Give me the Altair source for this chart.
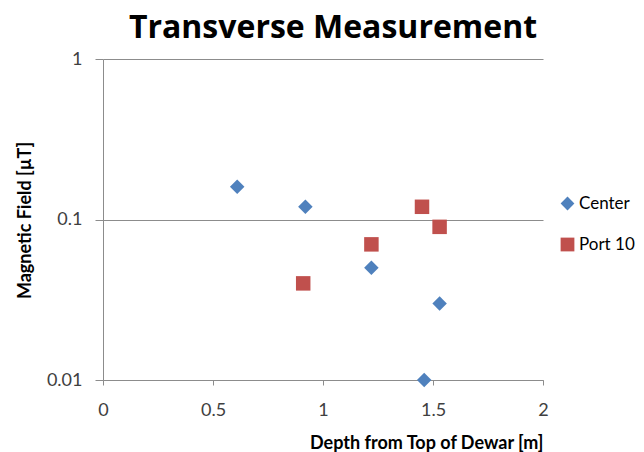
import altair as alt
import pandas as pd

series_names = ["Center", "Port 10"]
center_x = [0.61, 0.92, 1.22, 1.46, 1.53]
center_y = [0.16, 0.12, 0.05, 0.01, 0.03]
port_x = [0.91, 1.22, 1.45, 1.53]
port_y = [0.04, 0.07, 0.12, 0.09]
x_ticks = [0, 0.5, 1, 1.5, 2]
y_ticks = [0.01, 0.1, 1]

rows = [{"x": a, "y": b, "s": "Center"} for a, b in zip(center_x, center_y)]
rows += [{"x": a, "y": b, "s": "Port 10"} for a, b in zip(port_x, port_y)]
df = pd.DataFrame(rows)

FONT = "Lato"
GRID = "#8c8c8c"

chart = alt.Chart(df).mark_point(filled=True, opacity=1, size=210).encode(
    x=alt.X("x:Q", scale=alt.Scale(domain=[0, 2], nice=False),
            axis=alt.Axis(values=x_ticks, format="~g", grid=False, title="Depth from Top of Dewar [m]",
                          tickSize=5, labelPadding=16, labelFlush=False, titleX=440, titleAlign="right",
                          titleAnchor="end", titleY=68, titleBaseline="alphabetic")),
    y=alt.Y("y:Q", scale=alt.Scale(type="log", domain=[0.01, 1], nice=False),
            axis=alt.Axis(values=y_ticks, format="~g", grid=True, title="Magnetic Field [µT]",
                          tickSize=8, labelPadding=13, labelFlush=False, titleX=-78, titleY=161,
                          titleAngle=270, titleAlign="center", titleBaseline="middle")),
    color=alt.Color("s:N", scale=alt.Scale(domain=series_names, range=["#4F81BD", "#C0504D"]),
                    legend=alt.Legend(title=None, orient="none", legendX=456, legendY=136,
                                      symbolSize=190, rowPadding=23, labelFontSize=17,
                                      labelColor="#000000", labelFont=FONT, labelOffset=3, padding=0)),
    shape=alt.Shape("s:N", scale=alt.Scale(domain=series_names, range=["diamond", "square"])),
).properties(
    width=440, height=321,
    title=alt.TitleParams("Transverse Measurement", fontSize=32, font="Open Sans", fontWeight="bold",
                          color="#000000", anchor="middle", frame="group", dx=10, offset=0, dy=20,
                          baseline="alphabetic"),
    autosize=alt.AutoSizeParams(type="none"),
    padding={"left": 95, "top": 51, "right": 93, "bottom": 80},
).configure_view(stroke=None).configure_axis(
    domainColor=GRID, tickColor=GRID, gridColor=GRID, labelFont=FONT, titleFont=FONT,
    labelFontSize=18, labelColor="#404040", titleFontSize=18, titleColor="#000000", titleFontWeight="bold",
)

chart.save("out.html", embed_options={"renderer": "svg", "actions": False})
